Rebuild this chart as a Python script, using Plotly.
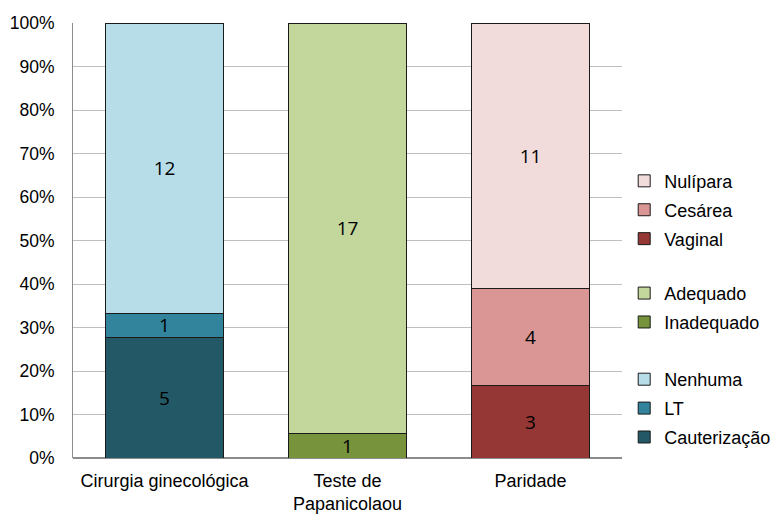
import plotly.graph_objects as go

categories = ["Cirurgia ginecológica", "Teste de<br>Papanicolaou", "Paridade"]

cauterizacao = [5, None, None]
lt = [1, None, None]
nenhuma = [12, None, None]
inadequado = [None, 1, None]
adequado = [None, 17, None]
vaginal = [None, None, 3]
cesarea = [None, None, 4]
nulipara = [None, None, 11]

# (name, values, color, legend, rank)
series = [
    ("Cauterização", cauterizacao, "#235966", "legend3", 3),
    ("LT", lt, "#31849B", "legend3", 2),
    ("Nenhuma", nenhuma, "#B7DEE8", "legend3", 1),
    ("Inadequado", inadequado, "#77933C", "legend2", 2),
    ("Adequado", adequado, "#C3D69B", "legend2", 1),
    ("Vaginal", vaginal, "#953735", "legend", 3),
    ("Cesárea", cesarea, "#D99694", "legend", 2),
    ("Nulípara", nulipara, "#F2DCDB", "legend", 1),
]

fig = go.Figure()
for name, vals, color, leg, rank in series:
    fig.add_trace(go.Bar(
        x=categories, y=vals, name=name,
        marker=dict(color=color, line=dict(color="#1a1a1a", width=1)),
        text=[str(v) if v is not None else "" for v in vals],
        textposition="inside", insidetextanchor="middle",
        textangle=0, constraintext="none",
        textfont=dict(family="Open Sans", size=19, color="#000000"),
        legend=leg, legendgroup=name, legendrank=rank,
    ))

legcommon = dict(
    xanchor="left", yanchor="top", x=1.004,
    traceorder="grouped", tracegroupgap=2.5,
    font=dict(family="Liberation Sans", size=18, color="#000000"),
    bgcolor="rgba(0,0,0,0)",
)

fig.update_layout(
    width=775, height=515,
    margin=dict(l=73, r=153, t=23, b=57, autoexpand=False),
    barmode="stack", barnorm="percent", bargap=0.35,
    plot_bgcolor="white", paper_bgcolor="white",
    font=dict(family="Liberation Sans", size=18, color="#000000"),
    legend=dict(y=0.679, **legcommon),
    legend2=dict(y=0.421, **legcommon),
    legend3=dict(y=0.223, **legcommon),
    xaxis=dict(showline=False, ticks="", tickfont=dict(size=18),
               ticklabelstandoff=10, automargin=False),
    yaxis=dict(range=[0, 100], dtick=10, ticksuffix="%",
               showgrid=True, gridcolor="#BFBFBF", gridwidth=1,
               showline=True, linecolor="#8C8C8C", linewidth=1,
               zeroline=True, zerolinecolor="#8C8C8C", ticks="",
               tickfont=dict(size=17.5), ticklabelstandoff=14,
               automargin=False),
)

fig.write_html(
    "out.html",
    config={"displayModeBar": False},
    post_script="document.body.style.margin='0';document.body.style.overflow='hidden';",
)
